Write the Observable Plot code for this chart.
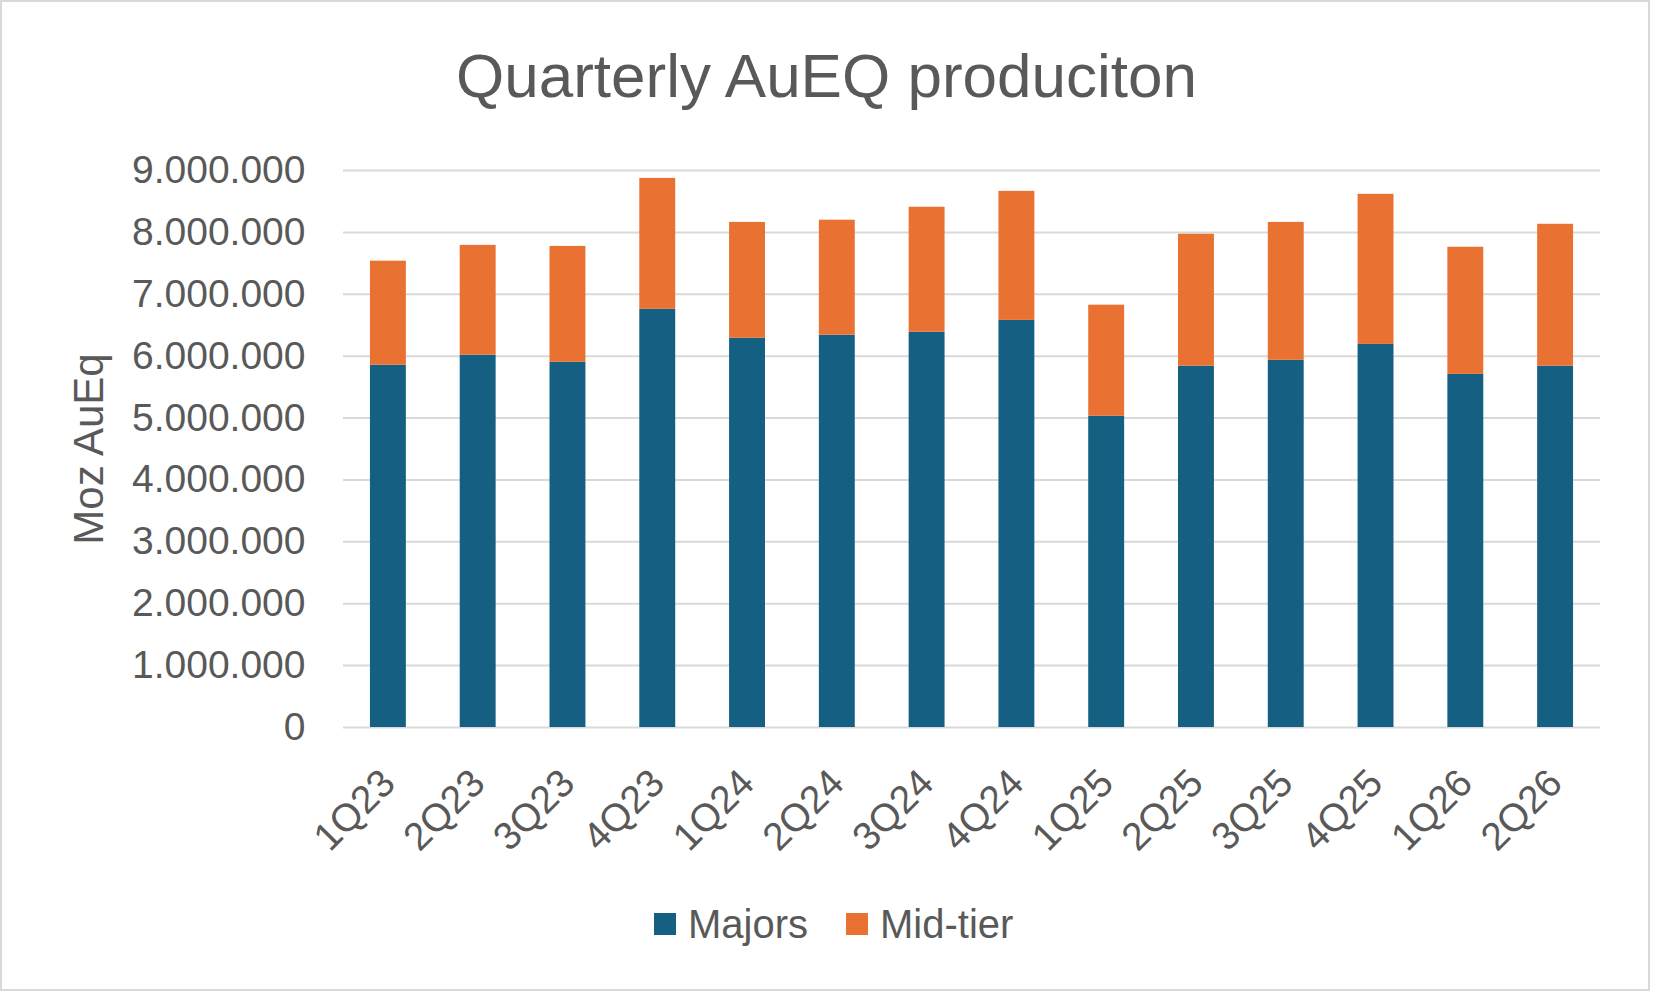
<!DOCTYPE html>
<html>
<head>
<meta charset="utf-8">
<script src="https://cdn.jsdelivr.net/npm/d3@7"></script>
<script src="https://cdn.jsdelivr.net/npm/@observablehq/plot@0.6"></script>
<style>
  html, body { margin: 0; padding: 0; background: #fff; }
  #wrap { position: relative; width: 1653px; height: 993px; overflow: hidden; font-family: "Liberation Sans", Arial, sans-serif; color: #595959; }
  #frame { position: absolute; left: 0; top: 0; width: 1650px; height: 991px; border: 2px solid #d9d9d9; box-sizing: border-box; pointer-events: none; }
  #title { position: absolute; left: 0; width: 1653px; top: 40px; line-height: 72px; text-align: center; font-size: 62px; }
  #chart { position: absolute; left: 0; top: 130px; }
  #legend { position: absolute; left: 654px; top: 900px; height: 48px; display: flex; align-items: center; font-size: 40px; }
  .sw { width: 22px; height: 22px; display: inline-block; margin-right: 12px; }
  .item { display: flex; align-items: center; margin-right: 38px; }
</style>
</head>
<body>
<div id="wrap">
  <div id="title">Quarterly AuEQ produciton</div>
  <div id="chart"></div>
  <div id="legend"></div>
  <div id="frame"></div>
</div>
<script>
const quarters = ["1Q23","2Q23","3Q23","4Q23","1Q24","2Q24","3Q24","4Q24","1Q25","2Q25","3Q25","4Q25","1Q26","2Q26"];
const majors = [5854000, 6016000, 5902000, 6757000, 6290000, 6339000, 6386000, 6578000, 5030000, 5838000, 5933000, 6190000, 5706000, 5838000];
const midTier = [1681000, 1774000, 1871000, 2115000, 1871000, 1858000, 2020000, 2085000, 1794000, 2132000, 2228000, 2425000, 2054000, 2293000];
const seriesNames = ["Majors", "Mid-tier"];
const seriesColors = ["#156082", "#E97132"];
const yTicks = [0, 1000000, 2000000, 3000000, 4000000, 5000000, 6000000, 7000000, 8000000, 9000000];

const data = quarters.flatMap((q, i) => [
  {quarter: q, series: seriesNames[0], value: majors[i]},
  {quarter: q, series: seriesNames[1], value: midTier[i]}
]);

const fmt = d3.formatLocale({decimal: ",", thousands: ".", grouping: [3], currency: ["", ""]}).format(",d");

const chart = Plot.plot({
  width: 1653,
  height: 750,
  marginLeft: 343,
  marginRight: 53,
  marginTop: 40,
  marginBottom: 153,
  style: {fontFamily: "'Liberation Sans', Arial, sans-serif", fontSize: "39px", color: "#595959", background: "transparent", overflow: "visible"},
  x: {domain: quarters, paddingInner: 0.6, paddingOuter: 0.3, round: false, label: null},
  y: {domain: [0, 9000000], label: null},
  color: {domain: seriesNames, range: seriesColors},
  marks: [
    Plot.gridY(yTicks, {stroke: "#d9d9d9", strokeOpacity: 1, strokeWidth: 2}),
    Plot.barY(data, {x: "quarter", y: "value", fill: "series"}),
    Plot.axisY(yTicks, {tickSize: 0, tickPadding: 38, tickFormat: fmt, label: "Moz AuEq", labelAnchor: "center", labelArrow: "none", labelOffset: 270, fontSize: 39}),
    Plot.axisX({tickSize: 0, tickRotate: -45, tickPadding: 49, label: null})
  ]
});
// slightly larger axis title, as in the reference
chart.querySelectorAll("g[aria-label='y-axis label'] text").forEach(t => t.setAttribute("font-size", "42"));
document.getElementById("chart").appendChild(chart);

const legend = document.getElementById("legend");
seriesNames.forEach((name, i) => {
  const item = document.createElement("div");
  item.className = "item";
  const sw = document.createElement("span");
  sw.className = "sw";
  sw.style.background = seriesColors[i];
  const label = document.createElement("span");
  label.textContent = name;
  item.appendChild(sw);
  item.appendChild(label);
  legend.appendChild(item);
});
</script>
</body>
</html>
